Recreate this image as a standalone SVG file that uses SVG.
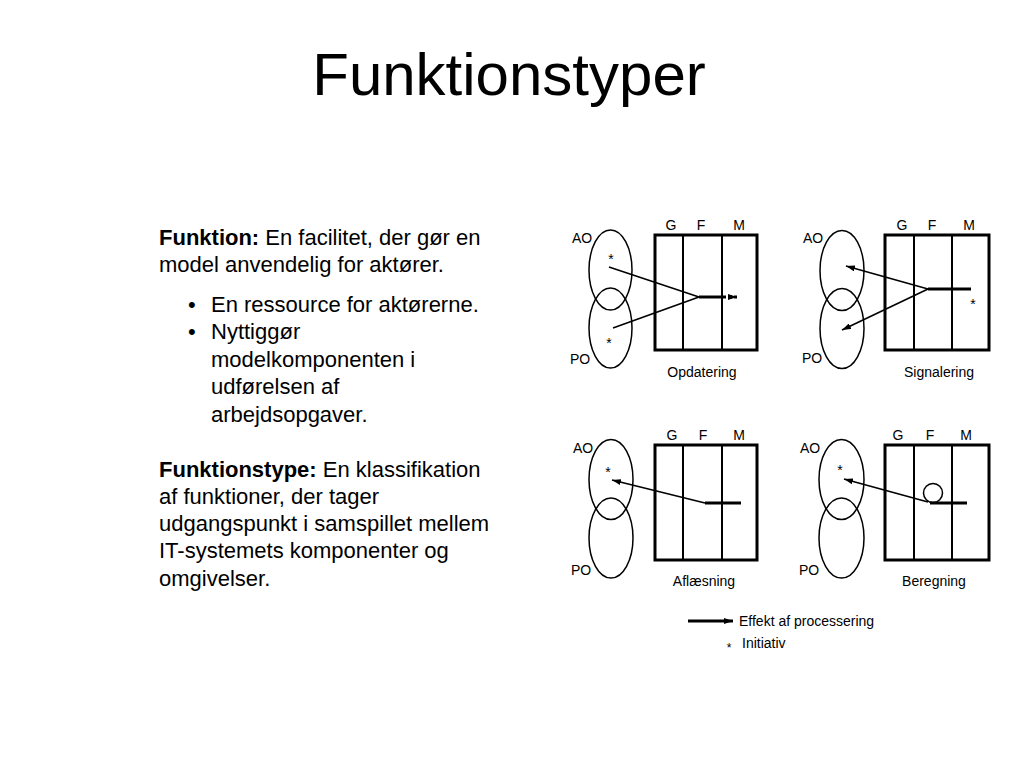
<svg xmlns="http://www.w3.org/2000/svg" width="1024" height="768" viewBox="0 0 1024 768">
<style>
text{font-family:"Liberation Sans",Arial,sans-serif;fill:#000}
.title{font-size:60px}
.body{font-size:22px}
.b{font-weight:bold}
.lbl{font-size:14px}
.star{font-size:14px;text-anchor:middle}
.box{fill:none;stroke:#000;stroke-width:3}
.div{stroke:#000;stroke-width:2}
.ell{fill:none;stroke:#000;stroke-width:1.5}
.thin{stroke:#000;stroke-width:1.6;fill:none}
.thick{stroke:#000;stroke-width:3;fill:none}
.mid{text-anchor:middle}
</style>
<defs>
<marker id="arr" markerUnits="userSpaceOnUse" markerWidth="9" markerHeight="6" refX="9" refY="3" orient="auto">
<path d="M0,0 L9,3 L0,6 z" fill="#000"/>
</marker>
</defs>
<rect width="1024" height="768" fill="#fff"/>
<text class="title mid" x="509" y="95">Funktionstyper</text>

<g id="text-block">
<text class="body" x="159" y="245"><tspan class="b">Funktion:</tspan> En facilitet, der gør en</text>
<text class="body" x="159" y="272">model anvendelig for aktører.</text>
<text class="body" x="188" y="312">•</text>
<text class="body" x="211" y="312">En ressource for aktørerne.</text>
<text class="body" x="188" y="339">•</text>
<text class="body" x="211" y="339">Nyttiggør</text>
<text class="body" x="211" y="367">modelkomponenten i</text>
<text class="body" x="211" y="394">udførelsen af</text>
<text class="body" x="211" y="422">arbejdsopgaver.</text>
<text class="body" x="159" y="477"><tspan class="b">Funktionstype:</tspan> En klassifikation</text>
<text class="body" x="159" y="504">af funktioner, der tager</text>
<text class="body" x="159" y="531">udgangspunkt i samspillet mellem</text>
<text class="body" x="159" y="558">IT-systemets komponenter og</text>
<text class="body" x="159" y="586">omgivelser.</text>
</g>

<!-- Panel 1: Opdatering -->
<g id="panel-opdatering">
<ellipse class="ell" cx="610.5" cy="270" rx="21.5" ry="40"/>
<ellipse class="ell" cx="610.5" cy="328" rx="21.5" ry="40"/>
<text class="lbl" x="572" y="243">AO</text>
<text class="lbl" x="570" y="364">PO</text>
<text class="star" x="611" y="264">*</text>
<text class="star" x="609" y="348">*</text>
<rect class="box" x="655" y="235" width="102" height="115"/>
<line class="div" x1="683" y1="235" x2="683" y2="350"/>
<line class="div" x1="722" y1="235" x2="722" y2="350"/>
<text class="lbl mid" x="671" y="230">G</text>
<text class="lbl mid" x="701" y="230">F</text>
<text class="lbl mid" x="739" y="230">M</text>
<text class="lbl mid" x="702" y="377">Opdatering</text>
</g>

<!-- Panel 2: Signalering -->
<g id="panel-signalering">
<ellipse class="ell" cx="842" cy="270.5" rx="22" ry="40"/>
<ellipse class="ell" cx="842" cy="328.5" rx="22" ry="40"/>
<text class="lbl" x="803" y="243">AO</text>
<text class="lbl" x="802" y="363">PO</text>
<text class="star" x="973" y="309">*</text>
<rect class="box" x="885" y="235" width="104" height="115"/>
<line class="div" x1="914" y1="235" x2="914" y2="350"/>
<line class="div" x1="952" y1="235" x2="952" y2="350"/>
<text class="lbl mid" x="902" y="230">G</text>
<text class="lbl mid" x="932" y="230">F</text>
<text class="lbl mid" x="969" y="230">M</text>
<text class="lbl mid" x="939" y="377">Signalering</text>
</g>

<!-- Panel 3: Aflæsning -->
<g id="panel-aflaesning">
<ellipse class="ell" cx="611" cy="479.5" rx="22" ry="40"/>
<ellipse class="ell" cx="611" cy="538" rx="22" ry="40"/>
<text class="lbl" x="573" y="453">AO</text>
<text class="lbl" x="571" y="575">PO</text>
<text class="star" x="608" y="477">*</text>
<rect class="box" x="655" y="445" width="102" height="115"/>
<line class="div" x1="683" y1="445" x2="683" y2="560"/>
<line class="div" x1="722" y1="445" x2="722" y2="560"/>
<text class="lbl mid" x="672" y="440">G</text>
<text class="lbl mid" x="703" y="440">F</text>
<text class="lbl mid" x="739" y="440">M</text>
<text class="lbl mid" x="704" y="586">Aflæsning</text>
</g>

<!-- Panel 4: Beregning -->
<g id="panel-beregning">
<ellipse class="ell" cx="841.5" cy="479.5" rx="22.5" ry="40"/>
<ellipse class="ell" cx="841.5" cy="538" rx="22.5" ry="40"/>
<text class="lbl" x="800" y="453">AO</text>
<text class="lbl" x="799" y="575">PO</text>
<text class="star" x="840" y="475">*</text>
<rect class="box" x="885" y="445" width="104" height="115"/>
<line class="div" x1="914" y1="445" x2="914" y2="560"/>
<line class="div" x1="952" y1="445" x2="952" y2="560"/>
<circle class="ell" cx="933" cy="493" r="9.5"/>
<text class="lbl mid" x="898" y="440">G</text>
<text class="lbl mid" x="930" y="440">F</text>
<text class="lbl mid" x="966" y="440">M</text>
<text class="lbl mid" x="934" y="586">Beregning</text>
</g>

<g id="connectors">
<!-- Opdatering -->
<line class="thin" x1="609" y1="267" x2="699" y2="297"/>
<line class="thin" x1="613" y1="328" x2="699" y2="297"/>
<line class="thick" x1="699" y1="297" x2="722" y2="297"/>
<line class="thick" x1="722" y1="297" x2="737" y2="297" stroke-dasharray="4,2" marker-end="url(#arr)"/>
<!-- Signalering -->
<line class="thick" x1="928" y1="289" x2="971" y2="289"/>
<line class="thin" x1="928" y1="289" x2="846" y2="266" marker-end="url(#arr)"/>
<line class="thin" x1="928" y1="289" x2="842" y2="330" marker-end="url(#arr)"/>
<!-- Aflæsning -->
<line class="thick" x1="705" y1="503" x2="741" y2="503"/>
<line class="thin" x1="705" y1="503" x2="612" y2="480" marker-end="url(#arr)"/>
<!-- Beregning -->
<line class="thick" x1="930" y1="503" x2="967" y2="503"/>
<line class="thin" x1="928" y1="502" x2="844" y2="479" marker-end="url(#arr)"/>
</g>

<g id="legend">
<line class="thick" x1="688" y1="621" x2="733" y2="621" marker-end="url(#arr)"/>
<text class="lbl" x="739" y="626">Effekt af processering</text>
<text class="star" x="729" y="652" style="font-size:12px">*</text>
<text class="lbl" x="742" y="648">Initiativ</text>
</g>
</svg>
